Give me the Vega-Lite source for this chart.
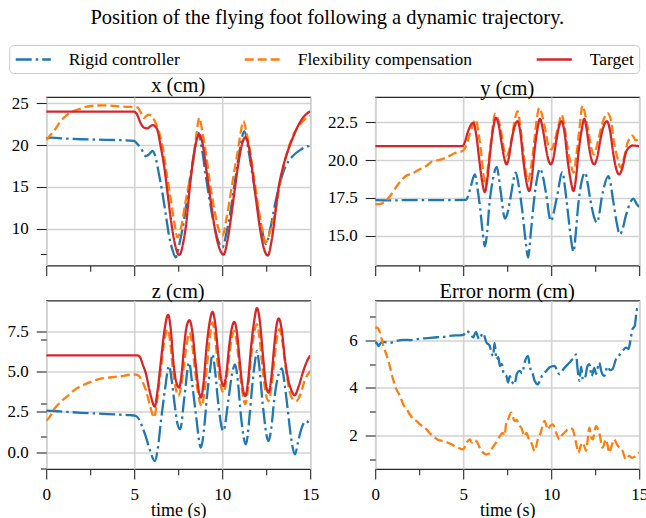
{
"$schema":"https://vega.github.io/schema/vega-lite/v6.json",
"padding":{"left":6.2,"top":8,"right":2,"bottom":0},
"title":{"text":"Position of the flying foot following a dynamic trajectory.","anchor":"middle","offset":16},
"data":{"values":[
{"p":"x","s":"R","t":0,"v":20.8},{"p":"x","s":"R","t":0.3,"v":20.9},{"p":"x","s":"R","t":1,"v":20.8},{"p":"x","s":"R","t":2,"v":20.7},{"p":"x","s":"R","t":3,"v":20.65},{"p":"x","s":"R","t":4,"v":20.6},{"p":"x","s":"R","t":4.99,"v":20.5},{"p":"x","s":"R","t":5.2,"v":20.1},{"p":"x","s":"R","t":5.37,"v":19.68},{"p":"x","s":"R","t":5.66,"v":18.69},{"p":"x","s":"R","t":5.85,"v":18.9},{"p":"x","s":"R","t":6.04,"v":19.29},{"p":"x","s":"R","t":6.22,"v":18.5},{"p":"x","s":"R","t":6.4,"v":16.6},{"p":"x","s":"R","t":6.6,"v":14.32},{"p":"x","s":"R","t":6.8,"v":11.6},{"p":"x","s":"R","t":6.98,"v":9.17},{"p":"x","s":"R","t":7.17,"v":7.5},{"p":"x","s":"R","t":7.36,"v":6.58},{"p":"x","s":"R","t":7.6,"v":8.5},{"p":"x","s":"R","t":7.84,"v":11.14},{"p":"x","s":"R","t":8.03,"v":14.0},{"p":"x","s":"R","t":8.22,"v":16.7},{"p":"x","s":"R","t":8.45,"v":19.5},{"p":"x","s":"R","t":8.66,"v":21.46},{"p":"x","s":"R","t":8.85,"v":19.5},{"p":"x","s":"R","t":9.07,"v":16.31},{"p":"x","s":"R","t":9.3,"v":13.2},{"p":"x","s":"R","t":9.55,"v":10.36},{"p":"x","s":"R","t":9.78,"v":8.5},{"p":"x","s":"R","t":10.02,"v":7.77},{"p":"x","s":"R","t":10.25,"v":9.6},{"p":"x","s":"R","t":10.49,"v":12.33},{"p":"x","s":"R","t":10.75,"v":16.0},{"p":"x","s":"R","t":11.0,"v":19.5},{"p":"x","s":"R","t":11.26,"v":21.67},{"p":"x","s":"R","t":11.5,"v":19.3},{"p":"x","s":"R","t":11.73,"v":16.31},{"p":"x","s":"R","t":12.0,"v":12.8},{"p":"x","s":"R","t":12.25,"v":10.0},{"p":"x","s":"R","t":12.48,"v":8.17},{"p":"x","s":"R","t":12.75,"v":10.2},{"p":"x","s":"R","t":13.06,"v":13.52},{"p":"x","s":"R","t":13.3,"v":15.6},{"p":"x","s":"R","t":13.53,"v":17.1},{"p":"x","s":"R","t":14.01,"v":18.69},{"p":"x","s":"R","t":14.48,"v":19.48},{"p":"x","s":"R","t":14.86,"v":19.88},{"p":"x","s":"R","t":15,"v":19.48},
{"p":"x","s":"F","t":0,"v":20.6},{"p":"x","s":"F","t":0.2,"v":21.1},{"p":"x","s":"F","t":0.44,"v":21.67},{"p":"x","s":"F","t":0.8,"v":22.8},{"p":"x","s":"F","t":1.2,"v":23.64},{"p":"x","s":"F","t":1.6,"v":24.1},{"p":"x","s":"F","t":1.96,"v":24.36},{"p":"x","s":"F","t":2.3,"v":24.6},{"p":"x","s":"F","t":2.71,"v":24.71},{"p":"x","s":"F","t":3.2,"v":24.75},{"p":"x","s":"F","t":3.67,"v":24.71},{"p":"x","s":"F","t":4.3,"v":24.6},{"p":"x","s":"F","t":4.8,"v":24.56},{"p":"x","s":"F","t":5.18,"v":24.5},{"p":"x","s":"F","t":5.4,"v":23.8},{"p":"x","s":"F","t":5.56,"v":23.25},{"p":"x","s":"F","t":5.7,"v":23.5},{"p":"x","s":"F","t":5.85,"v":23.64},{"p":"x","s":"F","t":6.05,"v":23.3},{"p":"x","s":"F","t":6.22,"v":22.65},{"p":"x","s":"F","t":6.4,"v":21.6},{"p":"x","s":"F","t":6.61,"v":19.88},{"p":"x","s":"F","t":6.85,"v":16.5},{"p":"x","s":"F","t":7.08,"v":13.52},{"p":"x","s":"F","t":7.3,"v":10.5},{"p":"x","s":"F","t":7.46,"v":8.96},{"p":"x","s":"F","t":7.65,"v":10.0},{"p":"x","s":"F","t":7.9,"v":13.0},{"p":"x","s":"F","t":8.12,"v":15.5},{"p":"x","s":"F","t":8.32,"v":17.5},{"p":"x","s":"F","t":8.52,"v":21.0},{"p":"x","s":"F","t":8.7,"v":23.25},{"p":"x","s":"F","t":8.88,"v":21.5},{"p":"x","s":"F","t":9.07,"v":19.08},{"p":"x","s":"F","t":9.3,"v":15.5},{"p":"x","s":"F","t":9.55,"v":12.33},{"p":"x","s":"F","t":9.8,"v":9.9},{"p":"x","s":"F","t":10.02,"v":9.17},{"p":"x","s":"F","t":10.25,"v":11.3},{"p":"x","s":"F","t":10.49,"v":14.32},{"p":"x","s":"F","t":10.68,"v":16.8},{"p":"x","s":"F","t":10.87,"v":19.08},{"p":"x","s":"F","t":11.05,"v":21.5},{"p":"x","s":"F","t":11.21,"v":22.86},{"p":"x","s":"F","t":11.37,"v":21.6},{"p":"x","s":"F","t":11.53,"v":19.88},{"p":"x","s":"F","t":11.78,"v":16.5},{"p":"x","s":"F","t":12.01,"v":13.13},{"p":"x","s":"F","t":12.25,"v":10.2},{"p":"x","s":"F","t":12.48,"v":8.37},{"p":"x","s":"F","t":12.7,"v":9.5},{"p":"x","s":"F","t":12.96,"v":11.55},{"p":"x","s":"F","t":13.25,"v":14.9},{"p":"x","s":"F","t":13.53,"v":17.9},{"p":"x","s":"F","t":13.8,"v":19.9},{"p":"x","s":"F","t":14.1,"v":21.46},{"p":"x","s":"F","t":14.4,"v":22.4},{"p":"x","s":"F","t":14.67,"v":23.05},{"p":"x","s":"F","t":15,"v":23.5},
{"p":"x","s":"T","t":0,"v":24.0},{"p":"x","s":"T","t":5.0,"v":24.0},{"p":"x","s":"T","t":5.15,"v":23.7},{"p":"x","s":"T","t":5.36,"v":22.65},{"p":"x","s":"T","t":5.55,"v":22.1},{"p":"x","s":"T","t":5.75,"v":22.0},{"p":"x","s":"T","t":5.95,"v":22.3},{"p":"x","s":"T","t":6.09,"v":22.38},{"p":"x","s":"T","t":6.2,"v":22.2},{"p":"x","s":"T","t":6.31,"v":21.86},{"p":"x","s":"T","t":6.5,"v":19.9},{"p":"x","s":"T","t":6.7,"v":17.5},{"p":"x","s":"T","t":6.9,"v":14.2},{"p":"x","s":"T","t":7.08,"v":11.14},{"p":"x","s":"T","t":7.3,"v":8.3},{"p":"x","s":"T","t":7.56,"v":6.86},{"p":"x","s":"T","t":7.8,"v":8.5},{"p":"x","s":"T","t":7.95,"v":10.5},{"p":"x","s":"T","t":8.13,"v":14.32},{"p":"x","s":"T","t":8.3,"v":17.5},{"p":"x","s":"T","t":8.5,"v":20.2},{"p":"x","s":"T","t":8.7,"v":21.26},{"p":"x","s":"T","t":8.9,"v":20.0},{"p":"x","s":"T","t":9.1,"v":17.0},{"p":"x","s":"T","t":9.36,"v":13.13},{"p":"x","s":"T","t":9.6,"v":9.8},{"p":"x","s":"T","t":9.85,"v":7.6},{"p":"x","s":"T","t":10.08,"v":6.9},{"p":"x","s":"T","t":10.3,"v":8.6},{"p":"x","s":"T","t":10.5,"v":11.3},{"p":"x","s":"T","t":10.69,"v":14.32},{"p":"x","s":"T","t":10.9,"v":17.5},{"p":"x","s":"T","t":11.1,"v":19.9},{"p":"x","s":"T","t":11.32,"v":20.95},{"p":"x","s":"T","t":11.5,"v":19.9},{"p":"x","s":"T","t":11.72,"v":16.8},{"p":"x","s":"T","t":11.92,"v":13.52},{"p":"x","s":"T","t":12.15,"v":10.0},{"p":"x","s":"T","t":12.35,"v":7.8},{"p":"x","s":"T","t":12.59,"v":6.78},{"p":"x","s":"T","t":12.8,"v":8.5},{"p":"x","s":"T","t":13.0,"v":11.5},{"p":"x","s":"T","t":13.16,"v":14.32},{"p":"x","s":"T","t":13.45,"v":17.3},{"p":"x","s":"T","t":13.73,"v":19.29},{"p":"x","s":"T","t":14.0,"v":20.8},{"p":"x","s":"T","t":14.3,"v":22.26},{"p":"x","s":"T","t":14.6,"v":23.3},{"p":"x","s":"T","t":15,"v":24.05},
{"p":"y","s":"R","t":0,"v":17.35},{"p":"y","s":"R","t":1,"v":17.33},{"p":"y","s":"R","t":2,"v":17.35},{"p":"y","s":"R","t":3,"v":17.35},{"p":"y","s":"R","t":4,"v":17.35},{"p":"y","s":"R","t":5.15,"v":17.36},{"p":"y","s":"R","t":5.3,"v":17.7},{"p":"y","s":"R","t":5.44,"v":18.28},{"p":"y","s":"R","t":5.66,"v":19.05},{"p":"y","s":"R","t":5.8,"v":18.2},{"p":"y","s":"R","t":5.97,"v":16.74},{"p":"y","s":"R","t":6.1,"v":15.3},{"p":"y","s":"R","t":6.23,"v":14.28},{"p":"y","s":"R","t":6.36,"v":15.2},{"p":"y","s":"R","t":6.48,"v":16.96},{"p":"y","s":"R","t":6.67,"v":18.61},{"p":"y","s":"R","t":6.91,"v":19.55},{"p":"y","s":"R","t":7.02,"v":18.9},{"p":"y","s":"R","t":7.14,"v":17.84},{"p":"y","s":"R","t":7.37,"v":16.13},{"p":"y","s":"R","t":7.52,"v":16.5},{"p":"y","s":"R","t":7.67,"v":17.4},{"p":"y","s":"R","t":7.99,"v":19.16},{"p":"y","s":"R","t":8.17,"v":18.2},{"p":"y","s":"R","t":8.37,"v":16.52},{"p":"y","s":"R","t":8.53,"v":14.8},{"p":"y","s":"R","t":8.69,"v":13.55},{"p":"y","s":"R","t":8.85,"v":15.3},{"p":"y","s":"R","t":9.03,"v":17.4},{"p":"y","s":"R","t":9.2,"v":18.8},{"p":"y","s":"R","t":9.37,"v":19.42},{"p":"y","s":"R","t":9.55,"v":18.8},{"p":"y","s":"R","t":9.7,"v":17.84},{"p":"y","s":"R","t":9.98,"v":15.97},{"p":"y","s":"R","t":10.3,"v":17.4},{"p":"y","s":"R","t":10.64,"v":19.2},{"p":"y","s":"R","t":10.78,"v":18.2},{"p":"y","s":"R","t":10.93,"v":16.74},{"p":"y","s":"R","t":11.1,"v":15.0},{"p":"y","s":"R","t":11.27,"v":13.93},{"p":"y","s":"R","t":11.4,"v":15.2},{"p":"y","s":"R","t":11.53,"v":16.96},{"p":"y","s":"R","t":11.7,"v":18.4},{"p":"y","s":"R","t":11.93,"v":19.16},{"p":"y","s":"R","t":12.08,"v":18.4},{"p":"y","s":"R","t":12.22,"v":17.4},{"p":"y","s":"R","t":12.6,"v":15.86},{"p":"y","s":"R","t":12.92,"v":17.8},{"p":"y","s":"R","t":13.24,"v":18.94},{"p":"y","s":"R","t":13.54,"v":17.18},{"p":"y","s":"R","t":13.7,"v":16.0},{"p":"y","s":"R","t":13.9,"v":15.09},{"p":"y","s":"R","t":14.05,"v":15.4},{"p":"y","s":"R","t":14.24,"v":16.3},{"p":"y","s":"R","t":14.68,"v":17.44},{"p":"y","s":"R","t":14.85,"v":17.1},{"p":"y","s":"R","t":15,"v":16.9},
{"p":"y","s":"F","t":0,"v":17.07},{"p":"y","s":"F","t":0.3,"v":17.1},{"p":"y","s":"F","t":0.61,"v":17.29},{"p":"y","s":"F","t":0.9,"v":17.7},{"p":"y","s":"F","t":1.17,"v":18.17},{"p":"y","s":"F","t":1.45,"v":18.6},{"p":"y","s":"F","t":1.74,"v":18.94},{"p":"y","s":"F","t":2.1,"v":19.1},{"p":"y","s":"F","t":2.5,"v":19.37},{"p":"y","s":"F","t":2.9,"v":19.6},{"p":"y","s":"F","t":3.26,"v":19.93},{"p":"y","s":"F","t":3.6,"v":20.0},{"p":"y","s":"F","t":4.02,"v":20.15},{"p":"y","s":"F","t":4.5,"v":20.45},{"p":"y","s":"F","t":4.96,"v":20.6},{"p":"y","s":"F","t":5.15,"v":20.9},{"p":"y","s":"F","t":5.34,"v":21.58},{"p":"y","s":"F","t":5.55,"v":22.3},{"p":"y","s":"F","t":5.72,"v":22.68},{"p":"y","s":"F","t":5.87,"v":21.8},{"p":"y","s":"F","t":6.0,"v":20.7},{"p":"y","s":"F","t":6.12,"v":19.4},{"p":"y","s":"F","t":6.25,"v":18.28},{"p":"y","s":"F","t":6.4,"v":19.5},{"p":"y","s":"F","t":6.57,"v":21.14},{"p":"y","s":"F","t":6.7,"v":22.4},{"p":"y","s":"F","t":6.8,"v":23.07},{"p":"y","s":"F","t":6.95,"v":22.8},{"p":"y","s":"F","t":7.14,"v":22.02},{"p":"y","s":"F","t":7.3,"v":20.8},{"p":"y","s":"F","t":7.46,"v":20.3},{"p":"y","s":"F","t":7.6,"v":20.6},{"p":"y","s":"F","t":7.75,"v":21.4},{"p":"y","s":"F","t":7.92,"v":22.6},{"p":"y","s":"F","t":8.09,"v":23.23},{"p":"y","s":"F","t":8.25,"v":22.2},{"p":"y","s":"F","t":8.41,"v":20.6},{"p":"y","s":"F","t":8.55,"v":19.3},{"p":"y","s":"F","t":8.69,"v":18.61},{"p":"y","s":"F","t":8.85,"v":19.5},{"p":"y","s":"F","t":9.03,"v":21.14},{"p":"y","s":"F","t":9.17,"v":22.6},{"p":"y","s":"F","t":9.32,"v":23.45},{"p":"y","s":"F","t":9.5,"v":22.9},{"p":"y","s":"F","t":9.7,"v":21.8},{"p":"y","s":"F","t":9.85,"v":20.9},{"p":"y","s":"F","t":10.02,"v":20.7},{"p":"y","s":"F","t":10.2,"v":21.3},{"p":"y","s":"F","t":10.4,"v":22.2},{"p":"y","s":"F","t":10.59,"v":23.0},{"p":"y","s":"F","t":10.75,"v":22.3},{"p":"y","s":"F","t":10.93,"v":20.8},{"p":"y","s":"F","t":11.1,"v":19.8},{"p":"y","s":"F","t":11.27,"v":19.16},{"p":"y","s":"F","t":11.42,"v":20.2},{"p":"y","s":"F","t":11.6,"v":22.0},{"p":"y","s":"F","t":11.78,"v":23.6},{"p":"y","s":"F","t":11.95,"v":22.9},{"p":"y","s":"F","t":12.16,"v":21.6},{"p":"y","s":"F","t":12.3,"v":20.7},{"p":"y","s":"F","t":12.44,"v":20.37},{"p":"y","s":"F","t":12.65,"v":21.2},{"p":"y","s":"F","t":12.9,"v":22.4},{"p":"y","s":"F","t":13.2,"v":23.1},{"p":"y","s":"F","t":13.4,"v":22.6},{"p":"y","s":"F","t":13.55,"v":21.3},{"p":"y","s":"F","t":13.75,"v":20.2},{"p":"y","s":"F","t":13.96,"v":19.49},{"p":"y","s":"F","t":14.15,"v":20.2},{"p":"y","s":"F","t":14.34,"v":21.14},{"p":"y","s":"F","t":14.62,"v":21.62},{"p":"y","s":"F","t":14.8,"v":21.3},{"p":"y","s":"F","t":15,"v":21.4},
{"p":"y","s":"T","t":0,"v":20.92},{"p":"y","s":"T","t":4.96,"v":20.92},{"p":"y","s":"T","t":5.1,"v":21.2},{"p":"y","s":"T","t":5.25,"v":21.8},{"p":"y","s":"T","t":5.57,"v":22.46},{"p":"y","s":"T","t":5.75,"v":21.6},{"p":"y","s":"T","t":5.91,"v":20.04},{"p":"y","s":"T","t":6.06,"v":18.7},{"p":"y","s":"T","t":6.23,"v":17.88},{"p":"y","s":"T","t":6.38,"v":18.8},{"p":"y","s":"T","t":6.53,"v":20.48},{"p":"y","s":"T","t":6.68,"v":21.9},{"p":"y","s":"T","t":6.86,"v":22.79},{"p":"y","s":"T","t":7.02,"v":22.3},{"p":"y","s":"T","t":7.18,"v":21.14},{"p":"y","s":"T","t":7.32,"v":20.2},{"p":"y","s":"T","t":7.46,"v":19.71},{"p":"y","s":"T","t":7.6,"v":20.2},{"p":"y","s":"T","t":7.75,"v":21.3},{"p":"y","s":"T","t":7.92,"v":22.2},{"p":"y","s":"T","t":8.09,"v":22.57},{"p":"y","s":"T","t":8.25,"v":21.8},{"p":"y","s":"T","t":8.41,"v":20.04},{"p":"y","s":"T","t":8.57,"v":18.7},{"p":"y","s":"T","t":8.75,"v":17.95},{"p":"y","s":"T","t":8.9,"v":18.8},{"p":"y","s":"T","t":9.04,"v":20.48},{"p":"y","s":"T","t":9.2,"v":21.9},{"p":"y","s":"T","t":9.36,"v":22.72},{"p":"y","s":"T","t":9.53,"v":22.0},{"p":"y","s":"T","t":9.7,"v":20.8},{"p":"y","s":"T","t":9.84,"v":20.0},{"p":"y","s":"T","t":9.98,"v":19.71},{"p":"y","s":"T","t":10.12,"v":20.1},{"p":"y","s":"T","t":10.28,"v":21.2},{"p":"y","s":"T","t":10.44,"v":22.2},{"p":"y","s":"T","t":10.59,"v":22.57},{"p":"y","s":"T","t":10.76,"v":21.8},{"p":"y","s":"T","t":10.93,"v":20.04},{"p":"y","s":"T","t":11.1,"v":18.7},{"p":"y","s":"T","t":11.27,"v":17.95},{"p":"y","s":"T","t":11.41,"v":18.8},{"p":"y","s":"T","t":11.55,"v":20.48},{"p":"y","s":"T","t":11.72,"v":21.9},{"p":"y","s":"T","t":11.88,"v":22.72},{"p":"y","s":"T","t":12.02,"v":22.0},{"p":"y","s":"T","t":12.16,"v":20.8},{"p":"y","s":"T","t":12.3,"v":20.0},{"p":"y","s":"T","t":12.44,"v":19.71},{"p":"y","s":"T","t":12.62,"v":20.2},{"p":"y","s":"T","t":12.82,"v":21.5},{"p":"y","s":"T","t":13.0,"v":22.3},{"p":"y","s":"T","t":13.16,"v":22.57},{"p":"y","s":"T","t":13.35,"v":21.9},{"p":"y","s":"T","t":13.52,"v":20.48},{"p":"y","s":"T","t":13.7,"v":19.4},{"p":"y","s":"T","t":13.86,"v":19.05},{"p":"y","s":"T","t":14.05,"v":19.5},{"p":"y","s":"T","t":14.24,"v":20.48},{"p":"y","s":"T","t":14.45,"v":20.85},{"p":"y","s":"T","t":14.62,"v":20.96},{"p":"y","s":"T","t":15,"v":20.92},
{"p":"z","s":"R","t":0,"v":2.58},{"p":"z","s":"R","t":0.5,"v":2.56},{"p":"z","s":"R","t":1,"v":2.52},{"p":"z","s":"R","t":2,"v":2.45},{"p":"z","s":"R","t":3,"v":2.4},{"p":"z","s":"R","t":4,"v":2.34},{"p":"z","s":"R","t":4.8,"v":2.3},{"p":"z","s":"R","t":5.1,"v":2.25},{"p":"z","s":"R","t":5.27,"v":2.05},{"p":"z","s":"R","t":5.45,"v":1.6},{"p":"z","s":"R","t":5.65,"v":1.01},{"p":"z","s":"R","t":5.9,"v":0.1},{"p":"z","s":"R","t":6.17,"v":-0.54},{"p":"z","s":"R","t":6.35,"v":0.3},{"p":"z","s":"R","t":6.51,"v":1.84},{"p":"z","s":"R","t":6.75,"v":3.9},{"p":"z","s":"R","t":6.98,"v":5.35},{"p":"z","s":"R","t":7.15,"v":4.3},{"p":"z","s":"R","t":7.31,"v":2.87},{"p":"z","s":"R","t":7.45,"v":1.8},{"p":"z","s":"R","t":7.61,"v":1.43},{"p":"z","s":"R","t":7.85,"v":3.4},{"p":"z","s":"R","t":8.12,"v":5.56},{"p":"z","s":"R","t":8.3,"v":4.2},{"p":"z","s":"R","t":8.5,"v":2.4},{"p":"z","s":"R","t":8.79,"v":0.29},{"p":"z","s":"R","t":9.0,"v":1.8},{"p":"z","s":"R","t":9.13,"v":3.4},{"p":"z","s":"R","t":9.3,"v":5.0},{"p":"z","s":"R","t":9.45,"v":6.07},{"p":"z","s":"R","t":9.6,"v":5.0},{"p":"z","s":"R","t":9.75,"v":3.3},{"p":"z","s":"R","t":10.06,"v":1.32},{"p":"z","s":"R","t":10.37,"v":3.4},{"p":"z","s":"R","t":10.55,"v":4.8},{"p":"z","s":"R","t":10.73,"v":5.45},{"p":"z","s":"R","t":10.9,"v":4.3},{"p":"z","s":"R","t":11.06,"v":2.3},{"p":"z","s":"R","t":11.35,"v":0.5},{"p":"z","s":"R","t":11.55,"v":2.2},{"p":"z","s":"R","t":11.68,"v":3.8},{"p":"z","s":"R","t":11.85,"v":5.5},{"p":"z","s":"R","t":11.98,"v":6.28},{"p":"z","s":"R","t":12.1,"v":5.4},{"p":"z","s":"R","t":12.3,"v":3.0},{"p":"z","s":"R","t":12.63,"v":0.7},{"p":"z","s":"R","t":12.8,"v":1.6},{"p":"z","s":"R","t":12.95,"v":3.2},{"p":"z","s":"R","t":13.15,"v":4.6},{"p":"z","s":"R","t":13.4,"v":5.19},{"p":"z","s":"R","t":13.55,"v":4.2},{"p":"z","s":"R","t":13.73,"v":2.6},{"p":"z","s":"R","t":13.9,"v":1.0},{"p":"z","s":"R","t":14.14,"v":-0.12},{"p":"z","s":"R","t":14.3,"v":0.6},{"p":"z","s":"R","t":14.49,"v":1.43},{"p":"z","s":"R","t":14.77,"v":1.94},{"p":"z","s":"R","t":15,"v":1.7},
{"p":"z","s":"F","t":0,"v":1.96},{"p":"z","s":"F","t":0.2,"v":2.2},{"p":"z","s":"F","t":0.43,"v":2.64},{"p":"z","s":"F","t":0.8,"v":3.1},{"p":"z","s":"F","t":1.19,"v":3.47},{"p":"z","s":"F","t":1.6,"v":3.85},{"p":"z","s":"F","t":1.95,"v":4.09},{"p":"z","s":"F","t":2.5,"v":4.35},{"p":"z","s":"F","t":3.09,"v":4.56},{"p":"z","s":"F","t":3.7,"v":4.65},{"p":"z","s":"F","t":4.23,"v":4.71},{"p":"z","s":"F","t":4.8,"v":4.81},{"p":"z","s":"F","t":5.05,"v":4.82},{"p":"z","s":"F","t":5.27,"v":4.73},{"p":"z","s":"F","t":5.45,"v":4.4},{"p":"z","s":"F","t":5.65,"v":3.9},{"p":"z","s":"F","t":5.9,"v":2.9},{"p":"z","s":"F","t":6.13,"v":2.15},{"p":"z","s":"F","t":6.3,"v":3.2},{"p":"z","s":"F","t":6.51,"v":5.1},{"p":"z","s":"F","t":6.7,"v":6.8},{"p":"z","s":"F","t":6.89,"v":7.62},{"p":"z","s":"F","t":7.05,"v":6.8},{"p":"z","s":"F","t":7.2,"v":5.1},{"p":"z","s":"F","t":7.35,"v":4.0},{"p":"z","s":"F","t":7.52,"v":3.49},{"p":"z","s":"F","t":7.68,"v":4.2},{"p":"z","s":"F","t":7.85,"v":5.6},{"p":"z","s":"F","t":8.0,"v":6.8},{"p":"z","s":"F","t":8.14,"v":7.42},{"p":"z","s":"F","t":8.3,"v":6.6},{"p":"z","s":"F","t":8.45,"v":5.1},{"p":"z","s":"F","t":8.65,"v":3.5},{"p":"z","s":"F","t":8.83,"v":2.87},{"p":"z","s":"F","t":9.0,"v":3.8},{"p":"z","s":"F","t":9.15,"v":5.5},{"p":"z","s":"F","t":9.3,"v":7.2},{"p":"z","s":"F","t":9.45,"v":8.04},{"p":"z","s":"F","t":9.6,"v":7.1},{"p":"z","s":"F","t":9.75,"v":5.4},{"p":"z","s":"F","t":9.92,"v":4.1},{"p":"z","s":"F","t":10.08,"v":3.7},{"p":"z","s":"F","t":10.25,"v":4.6},{"p":"z","s":"F","t":10.4,"v":6.0},{"p":"z","s":"F","t":10.55,"v":7.1},{"p":"z","s":"F","t":10.69,"v":7.52},{"p":"z","s":"F","t":10.83,"v":6.8},{"p":"z","s":"F","t":10.98,"v":5.2},{"p":"z","s":"F","t":11.15,"v":3.7},{"p":"z","s":"F","t":11.31,"v":2.98},{"p":"z","s":"F","t":11.47,"v":4.0},{"p":"z","s":"F","t":11.62,"v":5.7},{"p":"z","s":"F","t":11.8,"v":7.3},{"p":"z","s":"F","t":11.98,"v":7.93},{"p":"z","s":"F","t":12.13,"v":7.0},{"p":"z","s":"F","t":12.3,"v":5.1},{"p":"z","s":"F","t":12.47,"v":3.7},{"p":"z","s":"F","t":12.63,"v":3.18},{"p":"z","s":"F","t":12.8,"v":4.1},{"p":"z","s":"F","t":12.95,"v":5.6},{"p":"z","s":"F","t":13.1,"v":7.0},{"p":"z","s":"F","t":13.25,"v":7.62},{"p":"z","s":"F","t":13.4,"v":7.0},{"p":"z","s":"F","t":13.6,"v":5.3},{"p":"z","s":"F","t":13.8,"v":3.9},{"p":"z","s":"F","t":14.0,"v":3.3},{"p":"z","s":"F","t":14.2,"v":3.18},{"p":"z","s":"F","t":14.45,"v":3.6},{"p":"z","s":"F","t":14.68,"v":4.42},{"p":"z","s":"F","t":15,"v":5.04},
{"p":"z","s":"T","t":0,"v":6.0},{"p":"z","s":"T","t":5.2,"v":6.0},{"p":"z","s":"T","t":5.35,"v":5.85},{"p":"z","s":"T","t":5.5,"v":5.4},{"p":"z","s":"T","t":5.65,"v":4.94},{"p":"z","s":"T","t":5.9,"v":3.7},{"p":"z","s":"T","t":6.17,"v":2.83},{"p":"z","s":"T","t":6.3,"v":3.6},{"p":"z","s":"T","t":6.51,"v":5.56},{"p":"z","s":"T","t":6.7,"v":7.4},{"p":"z","s":"T","t":6.93,"v":8.51},{"p":"z","s":"T","t":7.08,"v":7.6},{"p":"z","s":"T","t":7.23,"v":5.56},{"p":"z","s":"T","t":7.38,"v":4.4},{"p":"z","s":"T","t":7.55,"v":4.01},{"p":"z","s":"T","t":7.7,"v":4.9},{"p":"z","s":"T","t":7.84,"v":6.6},{"p":"z","s":"T","t":7.98,"v":7.8},{"p":"z","s":"T","t":8.14,"v":8.18},{"p":"z","s":"T","t":8.3,"v":7.5},{"p":"z","s":"T","t":8.48,"v":5.6},{"p":"z","s":"T","t":8.63,"v":4.1},{"p":"z","s":"T","t":8.79,"v":3.39},{"p":"z","s":"T","t":8.95,"v":4.4},{"p":"z","s":"T","t":9.1,"v":6.4},{"p":"z","s":"T","t":9.28,"v":8.0},{"p":"z","s":"T","t":9.45,"v":8.7},{"p":"z","s":"T","t":9.6,"v":8.0},{"p":"z","s":"T","t":9.78,"v":6.0},{"p":"z","s":"T","t":9.93,"v":4.6},{"p":"z","s":"T","t":10.08,"v":4.11},{"p":"z","s":"T","t":10.25,"v":5.0},{"p":"z","s":"T","t":10.4,"v":6.6},{"p":"z","s":"T","t":10.55,"v":7.7},{"p":"z","s":"T","t":10.69,"v":8.08},{"p":"z","s":"T","t":10.84,"v":7.4},{"p":"z","s":"T","t":11.0,"v":5.6},{"p":"z","s":"T","t":11.15,"v":4.1},{"p":"z","s":"T","t":11.31,"v":3.49},{"p":"z","s":"T","t":11.48,"v":4.5},{"p":"z","s":"T","t":11.63,"v":6.4},{"p":"z","s":"T","t":11.8,"v":8.0},{"p":"z","s":"T","t":11.98,"v":8.93},{"p":"z","s":"T","t":12.13,"v":8.2},{"p":"z","s":"T","t":12.3,"v":6.2},{"p":"z","s":"T","t":12.47,"v":4.3},{"p":"z","s":"T","t":12.63,"v":3.7},{"p":"z","s":"T","t":12.8,"v":4.7},{"p":"z","s":"T","t":12.95,"v":6.5},{"p":"z","s":"T","t":13.08,"v":7.8},{"p":"z","s":"T","t":13.21,"v":8.29},{"p":"z","s":"T","t":13.38,"v":7.6},{"p":"z","s":"T","t":13.55,"v":5.9},{"p":"z","s":"T","t":13.75,"v":4.5},{"p":"z","s":"T","t":13.95,"v":3.8},{"p":"z","s":"T","t":14.11,"v":3.53},{"p":"z","s":"T","t":14.35,"v":4.1},{"p":"z","s":"T","t":14.58,"v":4.94},{"p":"z","s":"T","t":14.8,"v":5.6},{"p":"z","s":"T","t":15,"v":6.0},
{"p":"e","s":"R","t":0,"v":5.85},{"p":"e","s":"R","t":0.06,"v":5.92},{"p":"e","s":"R","t":0.19,"v":5.77},{"p":"e","s":"R","t":0.3,"v":5.88},{"p":"e","s":"R","t":0.47,"v":5.94},{"p":"e","s":"R","t":0.8,"v":5.9},{"p":"e","s":"R","t":1.2,"v":5.98},{"p":"e","s":"R","t":1.6,"v":6.03},{"p":"e","s":"R","t":2.0,"v":6.02},{"p":"e","s":"R","t":2.55,"v":6.08},{"p":"e","s":"R","t":3.0,"v":6.1},{"p":"e","s":"R","t":3.49,"v":6.14},{"p":"e","s":"R","t":4.0,"v":6.17},{"p":"e","s":"R","t":4.24,"v":6.2},{"p":"e","s":"R","t":4.96,"v":6.23},{"p":"e","s":"R","t":5.1,"v":6.3},{"p":"e","s":"R","t":5.19,"v":6.41},{"p":"e","s":"R","t":5.38,"v":6.3},{"p":"e","s":"R","t":5.57,"v":6.13},{"p":"e","s":"R","t":5.72,"v":6.37},{"p":"e","s":"R","t":5.9,"v":6.06},{"p":"e","s":"R","t":6.13,"v":6.31},{"p":"e","s":"R","t":6.32,"v":5.92},{"p":"e","s":"R","t":6.51,"v":5.77},{"p":"e","s":"R","t":6.6,"v":5.5},{"p":"e","s":"R","t":6.7,"v":5.35},{"p":"e","s":"R","t":6.78,"v":5.9},{"p":"e","s":"R","t":6.89,"v":5.21},{"p":"e","s":"R","t":7.0,"v":5.3},{"p":"e","s":"R","t":7.08,"v":4.93},{"p":"e","s":"R","t":7.2,"v":5.0},{"p":"e","s":"R","t":7.3,"v":4.6},{"p":"e","s":"R","t":7.45,"v":4.51},{"p":"e","s":"R","t":7.55,"v":4.23},{"p":"e","s":"R","t":7.65,"v":4.5},{"p":"e","s":"R","t":7.75,"v":4.3},{"p":"e","s":"R","t":7.92,"v":4.15},{"p":"e","s":"R","t":8.05,"v":4.6},{"p":"e","s":"R","t":8.21,"v":4.72},{"p":"e","s":"R","t":8.35,"v":4.62},{"p":"e","s":"R","t":8.5,"v":5.1},{"p":"e","s":"R","t":8.68,"v":5.35},{"p":"e","s":"R","t":8.8,"v":4.85},{"p":"e","s":"R","t":8.95,"v":4.6},{"p":"e","s":"R","t":9.06,"v":4.3},{"p":"e","s":"R","t":9.24,"v":4.15},{"p":"e","s":"R","t":9.4,"v":4.4},{"p":"e","s":"R","t":9.53,"v":4.58},{"p":"e","s":"R","t":9.7,"v":4.7},{"p":"e","s":"R","t":9.9,"v":4.86},{"p":"e","s":"R","t":10.19,"v":4.93},{"p":"e","s":"R","t":10.35,"v":4.7},{"p":"e","s":"R","t":10.47,"v":4.58},{"p":"e","s":"R","t":10.7,"v":4.8},{"p":"e","s":"R","t":11.04,"v":5.07},{"p":"e","s":"R","t":11.2,"v":5.2},{"p":"e","s":"R","t":11.32,"v":5.28},{"p":"e","s":"R","t":11.41,"v":5.42},{"p":"e","s":"R","t":11.5,"v":4.8},{"p":"e","s":"R","t":11.6,"v":4.3},{"p":"e","s":"R","t":11.7,"v":4.9},{"p":"e","s":"R","t":11.8,"v":4.35},{"p":"e","s":"R","t":11.95,"v":4.5},{"p":"e","s":"R","t":12.05,"v":4.9},{"p":"e","s":"R","t":12.17,"v":5.0},{"p":"e","s":"R","t":12.3,"v":4.5},{"p":"e","s":"R","t":12.45,"v":4.85},{"p":"e","s":"R","t":12.55,"v":4.6},{"p":"e","s":"R","t":12.73,"v":5.07},{"p":"e","s":"R","t":12.85,"v":4.7},{"p":"e","s":"R","t":13.02,"v":4.51},{"p":"e","s":"R","t":13.2,"v":4.9},{"p":"e","s":"R","t":13.35,"v":4.75},{"p":"e","s":"R","t":13.49,"v":4.8},{"p":"e","s":"R","t":13.68,"v":5.21},{"p":"e","s":"R","t":13.8,"v":5.3},{"p":"e","s":"R","t":13.96,"v":5.49},{"p":"e","s":"R","t":14.1,"v":5.6},{"p":"e","s":"R","t":14.24,"v":5.7},{"p":"e","s":"R","t":14.4,"v":5.65},{"p":"e","s":"R","t":14.5,"v":6.0},{"p":"e","s":"R","t":14.62,"v":6.48},{"p":"e","s":"R","t":14.75,"v":6.62},{"p":"e","s":"R","t":14.87,"v":7.32},{"p":"e","s":"R","t":15,"v":7.46},
{"p":"e","s":"F","t":0,"v":6.5},{"p":"e","s":"F","t":0.06,"v":6.55},{"p":"e","s":"F","t":0.19,"v":6.48},{"p":"e","s":"F","t":0.47,"v":5.77},{"p":"e","s":"F","t":0.75,"v":5.14},{"p":"e","s":"F","t":1.04,"v":4.3},{"p":"e","s":"F","t":1.2,"v":3.95},{"p":"e","s":"F","t":1.41,"v":3.66},{"p":"e","s":"F","t":1.6,"v":3.3},{"p":"e","s":"F","t":1.79,"v":3.1},{"p":"e","s":"F","t":2.0,"v":2.85},{"p":"e","s":"F","t":2.17,"v":2.68},{"p":"e","s":"F","t":2.35,"v":2.6},{"p":"e","s":"F","t":2.55,"v":2.46},{"p":"e","s":"F","t":2.75,"v":2.35},{"p":"e","s":"F","t":2.92,"v":2.25},{"p":"e","s":"F","t":3.15,"v":2.05},{"p":"e","s":"F","t":3.4,"v":1.9},{"p":"e","s":"F","t":3.6,"v":1.8},{"p":"e","s":"F","t":3.87,"v":1.76},{"p":"e","s":"F","t":4.1,"v":1.7},{"p":"e","s":"F","t":4.34,"v":1.62},{"p":"e","s":"F","t":4.5,"v":1.55},{"p":"e","s":"F","t":4.71,"v":1.48},{"p":"e","s":"F","t":5.0,"v":1.41},{"p":"e","s":"F","t":5.19,"v":1.69},{"p":"e","s":"F","t":5.38,"v":1.83},{"p":"e","s":"F","t":5.5,"v":1.7},{"p":"e","s":"F","t":5.6,"v":1.8},{"p":"e","s":"F","t":5.75,"v":1.76},{"p":"e","s":"F","t":5.94,"v":1.48},{"p":"e","s":"F","t":6.13,"v":1.27},{"p":"e","s":"F","t":6.32,"v":1.2},{"p":"e","s":"F","t":6.5,"v":1.25},{"p":"e","s":"F","t":6.6,"v":1.4},{"p":"e","s":"F","t":6.79,"v":1.62},{"p":"e","s":"F","t":6.95,"v":1.8},{"p":"e","s":"F","t":7.08,"v":1.97},{"p":"e","s":"F","t":7.25,"v":2.1},{"p":"e","s":"F","t":7.35,"v":2.0},{"p":"e","s":"F","t":7.45,"v":2.54},{"p":"e","s":"F","t":7.55,"v":2.68},{"p":"e","s":"F","t":7.73,"v":2.96},{"p":"e","s":"F","t":7.92,"v":2.61},{"p":"e","s":"F","t":8.05,"v":2.65},{"p":"e","s":"F","t":8.15,"v":2.45},{"p":"e","s":"F","t":8.3,"v":2.32},{"p":"e","s":"F","t":8.49,"v":1.97},{"p":"e","s":"F","t":8.6,"v":2.1},{"p":"e","s":"F","t":8.7,"v":1.9},{"p":"e","s":"F","t":8.87,"v":1.69},{"p":"e","s":"F","t":9.06,"v":1.34},{"p":"e","s":"F","t":9.24,"v":1.83},{"p":"e","s":"F","t":9.4,"v":2.1},{"p":"e","s":"F","t":9.62,"v":2.61},{"p":"e","s":"F","t":9.81,"v":2.25},{"p":"e","s":"F","t":9.95,"v":2.4},{"p":"e","s":"F","t":10.09,"v":2.46},{"p":"e","s":"F","t":10.28,"v":2.11},{"p":"e","s":"F","t":10.47,"v":1.83},{"p":"e","s":"F","t":10.6,"v":2.0},{"p":"e","s":"F","t":10.75,"v":2.11},{"p":"e","s":"F","t":10.94,"v":2.25},{"p":"e","s":"F","t":11.1,"v":2.3},{"p":"e","s":"F","t":11.22,"v":2.25},{"p":"e","s":"F","t":11.41,"v":1.69},{"p":"e","s":"F","t":11.55,"v":1.27},{"p":"e","s":"F","t":11.65,"v":1.5},{"p":"e","s":"F","t":11.79,"v":1.69},{"p":"e","s":"F","t":11.9,"v":1.5},{"p":"e","s":"F","t":11.98,"v":1.34},{"p":"e","s":"F","t":12.17,"v":2.32},{"p":"e","s":"F","t":12.25,"v":2.0},{"p":"e","s":"F","t":12.36,"v":1.83},{"p":"e","s":"F","t":12.55,"v":2.39},{"p":"e","s":"F","t":12.73,"v":2.1},{"p":"e","s":"F","t":12.92,"v":1.48},{"p":"e","s":"F","t":13.11,"v":1.83},{"p":"e","s":"F","t":13.2,"v":1.6},{"p":"e","s":"F","t":13.3,"v":1.27},{"p":"e","s":"F","t":13.45,"v":1.6},{"p":"e","s":"F","t":13.58,"v":1.83},{"p":"e","s":"F","t":13.75,"v":1.6},{"p":"e","s":"F","t":13.87,"v":1.48},{"p":"e","s":"F","t":14.05,"v":1.35},{"p":"e","s":"F","t":14.24,"v":0.99},{"p":"e","s":"F","t":14.43,"v":1.13},{"p":"e","s":"F","t":14.6,"v":1.05},{"p":"e","s":"F","t":14.75,"v":1.1},{"p":"e","s":"F","t":15,"v":1.27}
]},
"columns":2,
"spacing":{"row":34.5,"column":65},
"bounds":"flush",
"resolve":{"scale":{"x":"independent","y":"independent"}},
"concat":[
{"transform":[{"filter":{"field":"p","equal":"x"}}],"title":{"text":"x (cm)","offset":-2},"width":264,"height":168.5,
 "mark":{"type":"line","strokeWidth":2.3,"interpolate":"monotone","clip":true},
 "encoding":{
  "x":{"field":"t","type":"quantitative","scale":{"domain":[0,15],"nice":false,"zero":false},"axis":{"values":[0,2.5,5,7.5,10,12.5,15],"labels":false,"title":null,"tickSize":{"condition":{"test":"datum.value % 5 != 0","value":5.7},"value":10},"gridOpacity":{"condition":{"test":"datum.value % 5 != 0","value":0},"value":1}}},
  "y":{"field":"v","type":"quantitative","scale":{"domain":[5.6,25.75],"nice":false,"zero":false},"axis":{"values":[7,10,15,20,25],"title":null,"labelPadding":8,"labelExpr":"datum.value % 5 == 0 ? format(datum.value,'d') : ''","tickSize":{"condition":{"test":"datum.value % 5 != 0","value":5.7},"value":10},"gridOpacity":{"condition":{"test":"datum.value % 5 != 0","value":0},"value":1}}},
  "color":{"field":"s","type":"nominal","scale":{"domain":["R","F","T"],"range":["#1f77b4","#ff7f0e","#d62728"]},"legend":{"title":null,"labelExpr":"datum.label == 'R' ? 'Rigid controller' : datum.label == 'F' ? 'Flexibility compensation' : 'Target'"}},
  "strokeDash":{"field":"s","type":"nominal","scale":{"domain":["R","F","T"],"range":[[16,4,2.5,4],[9,4],[1,0]]},"legend":{"title":null,"labelExpr":"datum.label == 'R' ? 'Rigid controller' : datum.label == 'F' ? 'Flexibility compensation' : 'Target'"}}
 }},
{"transform":[{"filter":{"field":"p","equal":"y"}}],"title":{"text":"y (cm)","offset":-2},"width":264,"height":168.5,
 "mark":{"type":"line","strokeWidth":2.3,"interpolate":"monotone","clip":true},
 "encoding":{
  "x":{"field":"t","type":"quantitative","scale":{"domain":[0,15],"nice":false,"zero":false},"axis":{"values":[0,2.5,5,7.5,10,12.5,15],"labels":false,"title":null,"tickSize":{"condition":{"test":"datum.value % 5 != 0","value":5.7},"value":10},"gridOpacity":{"condition":{"test":"datum.value % 5 != 0","value":0},"value":1}}},
  "y":{"field":"v","type":"quantitative","scale":{"domain":[13.02,24.17],"nice":false,"zero":false},"axis":{"values":[15,17.5,20,22.5],"title":null,"format":".1f","tickSize":10,"labelPadding":8}},
  "color":{"field":"s","type":"nominal","scale":{"domain":["R","F","T"],"range":["#1f77b4","#ff7f0e","#d62728"]},"legend":{"title":null,"labelExpr":"datum.label == 'R' ? 'Rigid controller' : datum.label == 'F' ? 'Flexibility compensation' : 'Target'"}},
  "strokeDash":{"field":"s","type":"nominal","scale":{"domain":["R","F","T"],"range":[[16,4,2.5,4],[9,4],[1,0]]},"legend":{"title":null,"labelExpr":"datum.label == 'R' ? 'Rigid controller' : datum.label == 'F' ? 'Flexibility compensation' : 'Target'"}}
 }},
{"transform":[{"filter":{"field":"p","equal":"z"}}],"title":{"text":"z (cm)","offset":-2},"width":264,"height":168.5,
 "mark":{"type":"line","strokeWidth":2.3,"interpolate":"monotone","clip":true},
 "encoding":{
  "x":{"field":"t","type":"quantitative","scale":{"domain":[0,15],"nice":false,"zero":false},"axis":{"values":[0,2.5,5,7.5,10,12.5,15],"title":"time (s)","labelPadding":7.5,"titlePadding":-0.5,"labelExpr":"datum.value % 5 == 0 ? format(datum.value,'d') : ''","tickSize":{"condition":{"test":"datum.value % 5 != 0","value":5.7},"value":10},"gridOpacity":{"condition":{"test":"datum.value % 5 != 0","value":0},"value":1}}},
  "y":{"field":"v","type":"quantitative","scale":{"domain":[-1.03,9.4],"nice":false,"zero":false},"axis":{"values":[-1,0,1,2.5,3,5,7,7.5],"title":null,"labelPadding":8,"labelExpr":"datum.value % 2.5 == 0 ? format(datum.value,'.1f') : ''","tickSize":{"condition":{"test":"datum.value % 2.5 != 0","value":5.7},"value":10},"gridOpacity":{"condition":{"test":"datum.value % 2.5 != 0","value":0},"value":1}}},
  "color":{"field":"s","type":"nominal","scale":{"domain":["R","F","T"],"range":["#1f77b4","#ff7f0e","#d62728"]},"legend":{"title":null,"labelExpr":"datum.label == 'R' ? 'Rigid controller' : datum.label == 'F' ? 'Flexibility compensation' : 'Target'"}},
  "strokeDash":{"field":"s","type":"nominal","scale":{"domain":["R","F","T"],"range":[[16,4,2.5,4],[9,4],[1,0]]},"legend":{"title":null,"labelExpr":"datum.label == 'R' ? 'Rigid controller' : datum.label == 'F' ? 'Flexibility compensation' : 'Target'"}}
 }},
{"transform":[{"filter":{"field":"p","equal":"e"}}],"title":{"text":"Error norm (cm)","offset":-2},"width":264,"height":168.5,
 "mark":{"type":"line","strokeWidth":2.3,"interpolate":"monotone","clip":true},
 "encoding":{
  "x":{"field":"t","type":"quantitative","scale":{"domain":[0,15],"nice":false,"zero":false},"axis":{"values":[0,2.5,5,7.5,10,12.5,15],"title":"time (s)","labelPadding":7.5,"titlePadding":-0.5,"labelExpr":"datum.value % 5 == 0 ? format(datum.value,'d') : ''","tickSize":{"condition":{"test":"datum.value % 5 != 0","value":5.7},"value":10},"gridOpacity":{"condition":{"test":"datum.value % 5 != 0","value":0},"value":1}}},
  "y":{"field":"v","type":"quantitative","scale":{"domain":[0.58,7.69],"nice":false,"zero":false},"axis":{"values":[1,2,3,4,5,6,7],"title":null,"labelPadding":8,"labelExpr":"datum.value % 2 == 0 ? format(datum.value,'d') : ''","tickSize":{"condition":{"test":"datum.value % 2 != 0","value":5.7},"value":10},"gridOpacity":{"condition":{"test":"datum.value % 2 != 0","value":0},"value":1}}},
  "color":{"field":"s","type":"nominal","scale":{"domain":["R","F","T"],"range":["#1f77b4","#ff7f0e","#d62728"]},"legend":{"title":null,"labelExpr":"datum.label == 'R' ? 'Rigid controller' : datum.label == 'F' ? 'Flexibility compensation' : 'Target'"}},
  "strokeDash":{"field":"s","type":"nominal","scale":{"domain":["R","F","T"],"range":[[16,4,2.5,4],[9,4],[1,0]]},"legend":{"title":null,"labelExpr":"datum.label == 'R' ? 'Rigid controller' : datum.label == 'F' ? 'Flexibility compensation' : 'Target'"}}
 }}
],
"config":{
 "font":"Liberation Serif",
 "view":{"stroke":"#262626","strokeWidth":1.1},
 "style":{"guide-label":{"font":"Liberation Serif","fill":"#000"},"guide-title":{"font":"Liberation Serif"},"group-title":{"font":"Liberation Serif"}},
 "axis":{"domain":false,"grid":true,"gridColor":"#d2d2d2","gridWidth":1.6,"tickColor":"#262626","tickWidth":1.1,"labelFont":"Liberation Serif","labelFontSize":17,"labelColor":"#000","titleFont":"Liberation Serif","titleFontSize":18,"titleFontWeight":"normal","titleColor":"#000","labelFlush":false,"labelOverlap":false,"labelPadding":6,"titlePadding":0},
 "title":{"font":"Liberation Serif","fontSize":20.5,"fontWeight":"normal","color":"#000"},
 "legend":{"orient":"none","legendX":-37,"legendY":-52,"direction":"horizontal","symbolType":"M-1,0H3.4","symbolSize":256,"symbolStrokeWidth":2.3,"labelFont":"Liberation Serif","labelFontSize":17.5,"labelColor":"#000","labelOffset":35.5,"columnPadding":59,"padding":5,"strokeColor":"#cccccc","cornerRadius":4,"fillColor":"#ffffff","labelLimit":400}
}
}
